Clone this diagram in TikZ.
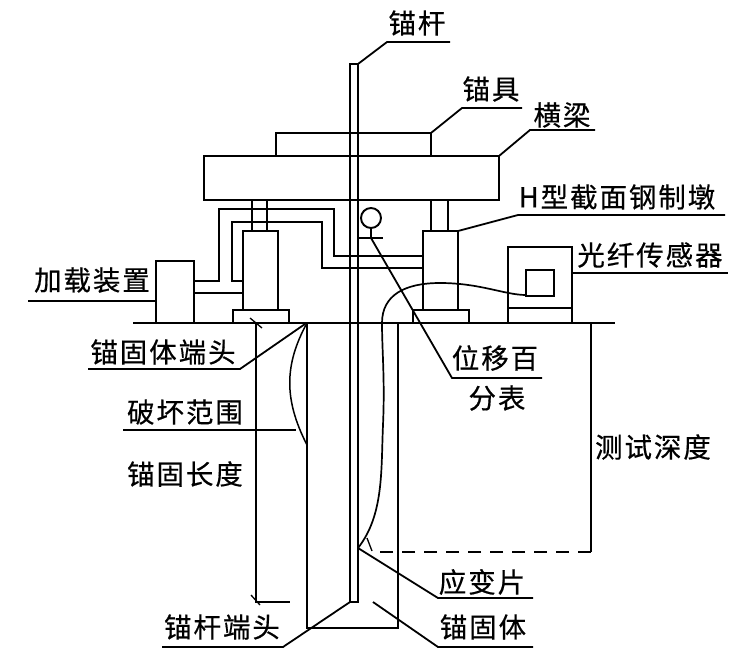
\documentclass[tikz,border=0pt]{standalone}
\usepackage{fontspec}
\setmainfont{Noto Sans CJK SC}[LetterSpace=7,FakeBold=0.5]
\usepackage{xcolor}
\usepackage{tikz}
\usetikzlibrary{positioning,calc}
\tikzset{
  part/.style={line width=1.9pt, line join=miter},
  leader/.style={line width=1.8pt},
  fine/.style={line width=1.3pt},
  lbl/.style={inner sep=0pt, font=\fontsize{27.5}{29}\selectfont}
}

\begin{document}
\begin{tikzpicture}[x=1pt,y=-1pt]
            \useasboundingbox (0,0) rectangle (737,653);

            % rod, plate and beam
            \draw [part] (350,602) -- (350,64) -- (358,64) -- (358,602) -- cycle;
            \draw [part] (276,156) -- (276,133) -- (431,133) -- (431,156);
            \draw [part] (204,156) rectangle (499,200);
            
            % ground and anchor body
            \draw [part] (133,323) -- (615,323);
            \draw [part] (307,323) -- (307,628) -- (398,628) -- (398,323);
            \draw [fine, line width=1.5pt] (307,323) .. controls (284,365) and (284,400) .. (307,445);

            % left pier
            \draw [part] (252,200) -- (252,231) (267,200) -- (267,231);
            \draw [part] (243,310) -- (243,231) -- (278,231) -- (278,310);
            \draw [part] (233,323) -- (233,310) -- (289,310) -- (289,323);

            % right pier
            \draw [part] (431,200) -- (431,231) (448,200) -- (448,231);
            \draw [part] (423,310) -- (423,231) -- (458,231) -- (458,310);
            \draw [part] (413,323) -- (413,310) -- (469,310) -- (469,323);

            % loading unit and its pipes
            \draw [part] (156,323) -- (156,261) -- (194,261) -- (194,323);
            \draw [part] (194,281) -- (219,281) -- (219,209) -- (334,209) -- (334,256) -- (423,256);
            \draw [part] (243,281) -- (232,281) -- (232,222) -- (322,222) -- (322,268) -- (423,268);
            \draw [part] (194,293) -- (243,293);

            % dial gauge
            \node (gauge) [circle, draw, part, minimum size=20pt, inner sep=0pt] at (371,218) {};
            \coordinate (gaugefoot) at (371,238);
            \draw [part] (gauge) -- (gaugefoot);
            \draw [part] (358,238) -- (383,238);

            % fibre sensor
            \draw [part] (508,323) -- (508,247) -- (572,247) -- (572,323);
            \draw [part] (508,308) -- (572,308);
            \draw [part] (526,270) rectangle (554,296);

            % cable and strain gauge
            \coordinate (straingauge) at (358,548);
            \draw [part, line width=1.7pt] (526,295) .. controls (505,295) and (480,283) .. (440,283)
              .. controls (405,283) and (382,295) .. (382,323)
              .. controls (382,350) and (385,380) .. (383,425)
              .. controls (381,470) and (384,515) .. (straingauge);
            \draw [fine] (367,538) -- (372,551);

            % test depth
            \draw [part] (591,323) -- (591,552);
            \draw [part, dash pattern=on 13pt off 9pt] (591,552) -- (377,552);

            % anchor length
            \draw [part] (256,323) -- (256,602) -- (290,602);
            \draw [fine] (250,318) -- (262,328);
            \draw [fine] (251,595) -- (260,605);

            % labels
            \node (rodlbl) [lbl] at (417,23) {锚杆};
            \node (platelbl) [lbl] at (491,89) {锚具};
            \node (beamlbl) [lbl] at (562,115) {横梁};
            \node (pierlbl) [lbl] at (617,197) {H型截面钢制墩};
            \node (sensorlbl) [lbl] at (650,255) {光纤传感器};
            \node (loadlbl) [lbl] at (92,280) {加载装置};
            \node (bodyheadlbl) [lbl] at (163,352) {锚固体端头};
            \node (damagelbl) [lbl] at (185,412) {破坏范围};
            \node (lengthlbl) [lbl] at (185,474) {锚固长度};
            \node (gaugelbl) [lbl] at (495,358) {位移百};
            \node (gaugelblb) [lbl] at (497,398) {分表};
            \node (depthlbl) [lbl] at (653,447) {测试深度};
            \node (straglbl) [lbl] at (482,582) {应变片};
            \node (bodylbl) [lbl] at (483,627) {锚固体};
            \node (rodheadlbl) [lbl] at (222,627) {锚杆端头};

            % leaders
            \draw [leader] (358,64) -- (387,42) -- (450,42);
            \draw [leader] (431,133) -- (462,108) -- (522,108);
            \draw [leader] (499,156) -- (530,130) -- (595,130);
            \draw [leader] (458,231) -- (518,215) -- (725,215);
            \draw [leader] (572,273) -- (728,273);
            \draw [leader] (28,301) -- (156,301);
            \draw [leader] (305,324) -- (240,369) -- (88,369);
            \draw [leader] (123,430) -- (296,430);
            \draw [leader] (gaugefoot) -- (452,378) -- (542,378);
            \draw [leader] (straingauge) -- (438,598) -- (533,598);
            \draw [leader] (373,602) -- (438,647) -- (533,647);
            \draw [leader] (350,602) -- (283,647) -- (162,647);
\end{tikzpicture}
\end{document}
